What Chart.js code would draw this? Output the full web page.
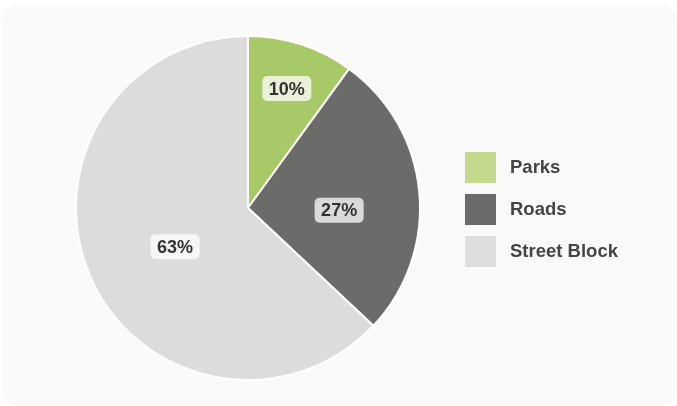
<!DOCTYPE html>
<html>
<head>
<meta charset="utf-8">
<script src="https://cdn.jsdelivr.net/npm/chart.js@4"></script>
<style>
    html, body { margin: 0; padding: 0; background: #ffffff; }
    #card {
        position: absolute; left: 2px; top: 5px; width: 675px; height: 401px;
        background: #fafafa; border-radius: 16px;
    }
    #wrap { position: absolute; left: 0; top: 0; width: 677px; height: 406px; }
</style>
</head>
<body>
<div id="card"></div>
<div id="wrap"><canvas id="landUseChart" width="677" height="406"></canvas></div>
<script>
var categories = ['Parks', 'Roads', 'Street Block'];
var shares = [10, 27, 63];
var sliceColors = ['#a8c968', '#6b6b69', '#dcdcdc'];
var legendColors = ['#c3d98e', '#6b6b69', '#dedede'];
// where each label sits: along the slice (0..1) and out from the centre (fraction of radius)
var labelAlong = [0.5, 0.57, 0.48];
var labelDepth = [0.73, 0.53, 0.48];

// percentage labels in small rounded boxes
var sliceLabels = {
    id: 'sliceLabels',
    afterDatasetsDraw: function (chart) {
        var ctx = chart.ctx;
        var meta = chart.getDatasetMeta(0);
        ctx.save();
        ctx.font = 'bold 18px "Liberation Sans", Arial, sans-serif';
        ctx.textAlign = 'center';
        ctx.textBaseline = 'middle';
        meta.data.forEach(function (arc, i) {
            var a = arc.startAngle + (arc.endAngle - arc.startAngle) * labelAlong[i];
            var r = arc.outerRadius * labelDepth[i];
            var x = arc.x + Math.cos(a) * r;
            var y = arc.y + Math.sin(a) * r;
            var text = shares[i] + '%';
            var w = ctx.measureText(text).width + 13;
            var h = 25;
            ctx.fillStyle = 'rgba(255,255,255,0.75)';
            ctx.beginPath();
            ctx.roundRect(x - w / 2, y - h / 2, w, h, 5);
            ctx.fill();
            ctx.fillStyle = '#333333';
            ctx.fillText(text, x, y + 1);
        });
        ctx.restore();
    }
};

// legend on the right side
var sideLegend = {
    id: 'sideLegend',
    afterDraw: function (chart) {
        var ctx = chart.ctx;
        ctx.save();
        ctx.font = 'bold 18.5px "Liberation Sans", Arial, sans-serif';
        ctx.textAlign = 'left';
        ctx.textBaseline = 'middle';
        categories.forEach(function (name, i) {
            var top = 152 + i * 42;
            ctx.fillStyle = legendColors[i];
            ctx.fillRect(465, top, 31, 31);
            ctx.fillStyle = '#444444';
            ctx.fillText(name, 510, top + 16);
        });
        ctx.restore();
    }
};

var ctx = document.getElementById('landUseChart').getContext('2d');
var landUseChart = new Chart(ctx, {
    type: 'pie',
    data: {
        labels: categories,
        datasets: [{
            data: shares,
            backgroundColor: sliceColors,
            borderColor: '#ffffff',
            borderWidth: 2
        }]
    },
    options: {
        responsive: false,
        animation: false,
        layout: {
            padding: { left: 75, right: 256, top: 35, bottom: 25 }
        },
        plugins: {
            legend: { display: false },
            tooltip: { enabled: false }
        }
    },
    plugins: [sliceLabels, sideLegend]
});
</script>
</body>
</html>
